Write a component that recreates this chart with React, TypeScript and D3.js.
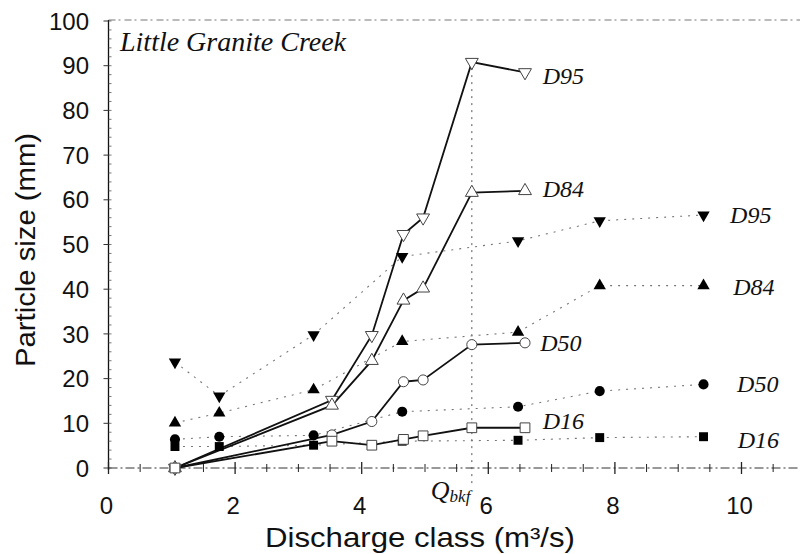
import React from 'react';
import * as d3 from 'd3';

// Discharge classes (m3/s)
const openQ = [1.05, 3.53, 4.16, 4.66, 4.97, 5.74, 6.58];
const filledQ = [1.05, 1.75, 3.24, 4.64, 6.47, 7.76, 9.4];

// Open symbols (solid lines)
const openD95 = [0, 15.2, 29.7, 52.3, 56.0, 90.8, 88.5];
const openD84 = [0, 14.0, 24.0, 37.5, 40.2, 61.6, 62.0];
const openD50 = [0, 7.4, 10.4, 19.3, 19.7, 27.6, 28.0];
const openD16 = [0, 6.0, 5.1, 6.4, 7.2, 9.0, 9.0];

// Filled symbols (dotted lines)
const filledD95 = [23.7, 16.1, 29.8, 47.3, 50.8, 55.3, 56.6];
const filledD84 = [10.1, 12.3, 17.5, 28.3, 30.4, 40.8, 40.8];
const filledD50 = [6.4, 7.0, 7.3, 12.6, 13.7, 17.2, 18.7];
const filledD16 = [4.8, 4.8, 5.1, 6.0, 6.2, 6.8, 7.0];

const seriesNames = ['D95', 'D84', 'D50', 'D16'];
const seriesShapes = ['down', 'up', 'circle', 'square'];

// label anchor positions in data units [x, y]
const openLabelPos = [[6.86, 87.7], [6.86, 62.3], [6.82, 27.9], [6.86, 10.4]];
const filledLabelPos = [[9.82, 56.6], [9.87, 40.4], [9.93, 18.7], [9.94, 6.3]];

const xTickLabels = [0, 2, 4, 6, 8, 10];
const yTickLabels = [0, 10, 20, 30, 40, 50, 60, 70, 80, 90, 100];
const qbkf = 5.74;

const SANS = "'Liberation Sans', Arial, sans-serif";
const SERIF = "'Liberation Serif', 'Times New Roman', serif";

function symbolPath(shape: string, filled: boolean) {
  if (shape === 'down' || shape === 'up') {
    return d3.symbol().type(d3.symbolTriangle).size(filled ? 66 : 72)() as string;
  }
  if (shape === 'circle') return d3.symbol().type(d3.symbolCircle).size(80)() as string;
  return d3.symbol().type(d3.symbolSquare).size(filled ? 80 : 95)() as string;
}

export default function App() {
  const W = 800;
  const H = 554;
  const x = d3.scaleLinear().domain([0, 10]).range([108.5, 741.5]);
  const y = d3.scaleLinear().domain([0, 100]).range([468, 21]);
  const xMax = x.invert(800);
  const line = d3
    .line<[number, number]>()
    .x((d) => x(d[0]))
    .y((d) => y(d[1]));

  const openVals = [openD95, openD84, openD50, openD16];
  const filledVals = [filledD95, filledD84, filledD50, filledD16];

  const xTicks = d3.range(0, xMax, 0.5);
  const yMinor = d3.range(0, 100.01, 2);

  return (
    <svg
      width={W}
      height={H}
      viewBox={`0 0 ${W} ${H}`}
      style={{ position: 'absolute', left: 0, top: 0, background: '#fff' }}
    >
      <rect x={0} y={0} width={W} height={H} fill="#fff" />

      {/* top border */}
      <line x1={x(0)} x2={W} y1={y(100) - 1} y2={y(100) - 1} stroke="#777" strokeWidth={1} strokeDasharray="7,3,2,4" />

      {/* y axis */}
      <line x1={x(0)} x2={x(0)} y1={y(100) - 1} y2={y(0) + 2} stroke="#111" strokeWidth={1.3} />
      {yMinor.map((v) => (
        <line key={'ym' + v} x1={x(0)} x2={x(0) + 3} y1={y(v)} y2={y(v)} stroke="#555" strokeWidth={0.8} />
      ))}
      {yTickLabels.map((v) => (
        <g key={'yt' + v}>
          <line x1={x(0) - 5} x2={x(0)} y1={y(v)} y2={y(v)} stroke="#333" strokeWidth={1} />
          <text
            x={89}
            y={y(v)}
            dy="0.36em"
            textAnchor="end"
            fontFamily={SANS}
            fontSize={24}
            fill="#111"
          >
            {v}
          </text>
        </g>
      ))}

      {/* x axis */}
      <line x1={x(0)} x2={W} y1={y(0)} y2={y(0)} stroke="#333" strokeWidth={1} strokeDasharray="9,3,2,3" />
      {xTicks.map((v) => (
        <line
          key={'xt' + v}
          x1={x(v)}
          x2={x(v)}
          y1={y(0) - (v % 2 === 0 ? 6 : 4)}
          y2={y(0) + (v % 2 === 0 ? 6 : 4)}
          stroke="#222"
          strokeWidth={v % 2 === 0 ? 1.3 : 1}
        />
      ))}
      {xTickLabels.map((v) => (
        <text
          key={'xl' + v}
          x={x(v) - 2}
          y={514}
          textAnchor="middle"
          fontFamily={SANS}
          fontSize={24}
          fill="#111"
        >
          {v}
        </text>
      ))}

      {/* axis titles */}
      <text
        x={420}
        y={547}
        textAnchor="middle"
        fontFamily={SANS}
        fontSize={28}
        textLength={310}
        lengthAdjust="spacingAndGlyphs"
        fill="#111"
      >
        Discharge class (m³/s)
      </text>
      <text
        transform={`translate(35,${250}) rotate(-90)`}
        textAnchor="middle"
        fontFamily={SANS}
        fontSize={28}
        textLength={234}
        lengthAdjust="spacingAndGlyphs"
        fill="#111"
      >
        Particle size (mm)
      </text>

      {/* Q bankfull line */}
      <line x1={x(qbkf)} x2={x(qbkf)} y1={y(openD95[5]) + 6} y2={486} stroke="#555" strokeWidth={1} strokeDasharray="2,5" />
      <text x={x(qbkf) - 41} y={499} fontFamily={SERIF} fontStyle="italic" fontSize={26} fill="#111">
        Q
        <tspan fontSize={17} dy={3}>bkf</tspan>
      </text>

      {/* title */}
      <text x={120} y={51} fontFamily={SERIF} fontStyle="italic" fontSize={28} fill="#111">
        Little Granite Creek
      </text>

      {/* filled series dotted lines */}
      {filledVals.map((vals, i) => (
        <path
          key={'fl' + i}
          d={line(filledQ.map((q, j) => [q, vals[j]] as [number, number])) as string}
          fill="none"
          stroke="#777"
          strokeWidth={1.1}
          strokeDasharray="2,6"
        />
      ))}

      {/* open series solid lines */}
      {openVals.map((vals, i) => (
        <path
          key={'ol' + i}
          d={line(openQ.map((q, j) => [q, vals[j]] as [number, number])) as string}
          fill="none"
          stroke="#111"
          strokeWidth={1.8}
        />
      ))}

      {/* filled markers */}
      {filledVals.map((vals, i) =>
        vals.map((v, j) => (
          <path
            key={'fm' + i + '-' + j}
            d={symbolPath(seriesShapes[i], true)}
            transform={`translate(${x(filledQ[j])},${y(v)})${seriesShapes[i] === 'down' ? ' rotate(180)' : ''}`}
            fill="#000"
          />
        ))
      )}

      {/* open markers */}
      {openVals.map((vals, i) =>
        vals.map((v, j) => (
          <path
            key={'om' + i + '-' + j}
            d={symbolPath(seriesShapes[i], false)}
            transform={`translate(${x(openQ[j])},${y(v)})${seriesShapes[i] === 'down' ? ' rotate(180)' : ''}`}
            fill="#fff"
            stroke="#444"
            strokeWidth={1}
          />
        ))
      )}

      {/* series labels */}
      {seriesNames.map((n, i) => (
        <text
          key={'olab' + n}
          x={x(openLabelPos[i][0])}
          y={y(openLabelPos[i][1])}
          dy="0.33em"
          fontFamily={SERIF}
          fontStyle="italic"
          fontSize={24}
          fill="#111"
        >
          {n}
        </text>
      ))}
      {seriesNames.map((n, i) => (
        <text
          key={'flab' + n}
          x={x(filledLabelPos[i][0])}
          y={y(filledLabelPos[i][1])}
          dy="0.33em"
          fontFamily={SERIF}
          fontStyle="italic"
          fontSize={24}
          fill="#111"
        >
          {n}
        </text>
      ))}
    </svg>
  );
}
